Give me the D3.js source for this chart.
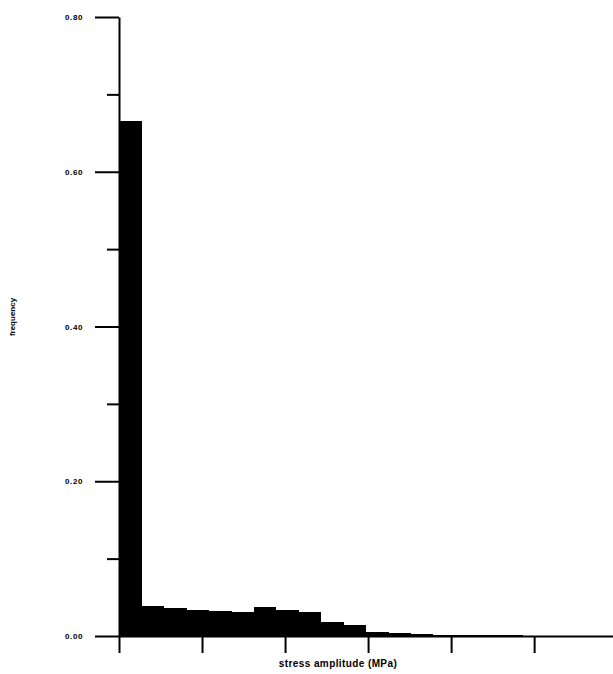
<!DOCTYPE html>
<html>
    <head>
        <meta charset="utf-8">
        <title>Stress amplitude histogram</title>
        <script src="https://cdn.jsdelivr.net/npm/d3@7"></script>
        <style>
            body { margin: 0; background: white; }
            text { font-family: "Liberation Sans", Arial, sans-serif; }
        </style>
    </head>
    <body>
        <script type="text/javascript">

            // Histogram data (bin width in MPa-ish units)
            var binWidth = 5.4;
            var frequencies = [0.666, 0.039, 0.036, 0.034, 0.032, 0.031, 0.037, 0.034,
                               0.031, 0.018, 0.014, 0.0056, 0.0035, 0.0025, 0.0017,
                               0.0012, 0.001, 0.0008, 0.0006, 0.0005, 0.0004, 0.0003];
            var yMajorTicks = [0.00, 0.20, 0.40, 0.60, 0.80];
            var yMinorTicks = [0.10, 0.30, 0.50, 0.70];
            var xTicks = [0, 20, 40, 60, 80, 100];

            var svg_width = 613;
            var svg_height = 674;
            var margin_left = 119;
            var margin_top = 17;
            var plot_width = 494;
            var plot_height = 619;

            var svg = d3.select("body")
                        .append("svg")
                        .attr("width", svg_width)
                        .attr("height", svg_height);

            var xScale = d3.scaleLinear()
                           .domain([0, 119])
                           .range([margin_left, margin_left + plot_width]);

            var yScale = d3.scaleLinear()
                           .domain([0, 0.8])
                           .range([margin_top + plot_height, margin_top]);

            // bars, drawn crisp so neighbouring bins merge into one black block
            svg.selectAll("rect.bar")
               .data(frequencies)
               .enter()
               .append("rect")
               .attr("class", "bar")
               .attr("x", function(d, i) { return xScale(i * binWidth); })
               .attr("width", function(d, i) { return xScale((i + 1) * binWidth) - xScale(i * binWidth) + 0.5; })
               .attr("y", function(d) { return yScale(d); })
               .attr("height", function(d) { return yScale(0) - yScale(d); })
               .attr("fill", "black")
               .attr("shape-rendering", "crispEdges");

            // y axis, major ticks with labels
            var yAxis = svg.append("g")
                           .attr("transform", "translate(" + margin_left + ",0)")
                           .call(d3.axisLeft(yScale)
                                   .tickValues(yMajorTicks)
                                   .tickSize(24)
                                   .tickSizeOuter(0)
                                   .tickPadding(12)
                                   .tickFormat(d3.format(".2f")));

            // y axis minor ticks
            var yMinor = svg.append("g")
                            .attr("transform", "translate(" + margin_left + ",0)")
                            .call(d3.axisLeft(yScale)
                                    .tickValues(yMinorTicks)
                                    .tickSize(12)
                                    .tickSizeOuter(0)
                                    .tickFormat(""));
            yMinor.select(".domain").remove();

            // x axis, ticks without labels
            var xAxis = svg.append("g")
                           .attr("transform", "translate(0," + yScale(0) + ")")
                           .call(d3.axisBottom(xScale)
                                   .tickValues(xTicks)
                                   .tickSize(17)
                                   .tickSizeOuter(0)
                                   .tickFormat(""));

            svg.selectAll(".domain, .tick line")
               .attr("stroke", "black")
               .attr("stroke-width", 2);

            yAxis.selectAll("text")
                 .attr("font-size", "8px")
                 .attr("font-weight", "bold")
                 .attr("letter-spacing", "0.6px")
                 .attr("fill", "black");

            // axis labels
            svg.append("text")
               .attr("transform", "translate(15,317) rotate(-90)")
               .attr("text-anchor", "middle")
               .attr("font-size", "8px")
               .attr("font-weight", "bold")
               .text("frequency");

            svg.append("text")
               .attr("x", 338)
               .attr("y", 667)
               .attr("text-anchor", "middle")
               .attr("font-size", "10px")
               .attr("font-weight", "bold")
               .attr("letter-spacing", "0.4px")
               .text("stress amplitude (MPa)");

        </script>
    </body>
</html>
